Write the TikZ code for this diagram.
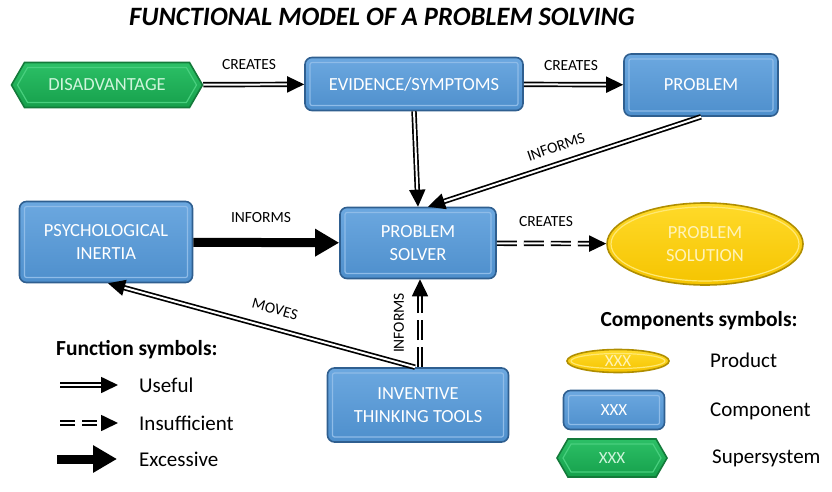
\documentclass[tikz,border=0pt]{standalone}
\usepackage{fontspec}
\setmainfont{Carlito}
\usetikzlibrary{arrows.meta,shapes.geometric,shapes.symbols,calc}
\definecolor{cbluetop}{HTML}{6CA8E0}
\definecolor{cbluebot}{HTML}{4E8FCC}
\definecolor{cedge}{HTML}{2F5F90}
\definecolor{cinner}{HTML}{8FBCE8}
\definecolor{gtop}{HTML}{2CC066}
\definecolor{gbot}{HTML}{16A04C}
\definecolor{gedge}{HTML}{137A3A}
\definecolor{ginner}{HTML}{48CF7E}
\definecolor{gtext}{HTML}{CFF5DC}
\definecolor{ytop}{HTML}{FFDA2A}
\definecolor{ybot}{HTML}{F5C400}
\definecolor{yedge}{HTML}{B08E00}
\definecolor{yinner}{HTML}{FFE873}
\definecolor{ytext}{HTML}{FFF3B8}
\tikzset{
  comp/.style={rectangle, rounded corners=7pt, top color=cbluetop, bottom color=cbluebot,
    draw=cedge, line width=1.6pt, text=white, align=center, inner sep=0pt,
    font=\fontsize{18.5}{23}\selectfont,
    path picture={\draw[cinner, line width=1.2pt, rounded corners=2pt]
      ($(path picture bounding box.north west)+(5pt,-5pt)$) rectangle
      ($(path picture bounding box.south east)+(-5pt,5pt)$);}},
  sup/.style={signal, signal to=west and east, signal pointer angle=120,
    top color=gtop, bottom color=gbot, draw=gedge, line width=1.6pt, text=gtext,
    inner sep=0pt, font=\fontsize{18.5}{23}\selectfont,
    path picture={\draw[ginner, line width=1.2pt]
      let \p1=(path picture bounding box.south west), \p2=(path picture bounding box.north east),
          \n1={0.5*\y2-0.5*\y1-5pt}, \n2={0.577*\n1}, \n3={0.5*\y1+0.5*\y2} in
      ({\x1+6pt},{\n3}) -- ({\x1+6pt+\n2},{\y2-5pt}) -- ({\x2-6pt-\n2},{\y2-5pt}) --
      ({\x2-6pt},{\n3}) -- ({\x2-6pt-\n2},{\y1+5pt}) -- ({\x1+6pt+\n2},{\y1+5pt}) -- cycle;}},
  prod/.style={ellipse, top color=ytop, bottom color=ybot, draw=yedge, line width=1.6pt,
    text=ytext, align=center, inner sep=0pt, font=\fontsize{18.5}{23}\selectfont,
    path picture={\draw[yinner, line width=1.2pt]
      let \p1=(path picture bounding box.south west), \p2=(path picture bounding box.north east) in
      ({0.5*\x1+0.5*\x2},{0.5*\y1+0.5*\y2}) ellipse ({0.5*\x2-0.5*\x1-4pt} and {0.5*\y2-0.5*\y1-4pt});}},
  useful/.style={draw=black, double=white, double distance=2pt, line width=1.7pt,
    -{Triangle[length=17pt,width=16pt]}},
  insuff/.style={useful, dash pattern=on 20pt off 7pt},
  excess/.style={draw=black, line width=9pt, -{Triangle[length=24pt,width=26pt]}},
  lab/.style={font=\fontsize{15.5}{18}\selectfont, inner sep=0pt},
  legh/.style={font=\fontsize{21.5}{24}\selectfont\bfseries, inner sep=0pt},
  legt/.style={font=\fontsize{21}{24}\selectfont, inner sep=0pt, anchor=west},
  ttl/.style={font=\fontsize{26.5}{30}\selectfont\bfseries\itshape, inner sep=0pt}
}
\begin{document}
\begin{tikzpicture}[x=1pt,y=-1pt]
\useasboundingbox[fill=white] (0,0) rectangle (832,492);
\node[ttl] (title) at (382,17) {FUNCTIONAL MODEL OF A PROBLEM SOLVING};
% main nodes
\node[sup, minimum width=191pt, minimum height=45pt] (dis) at (107,85) {DISADVANTAGE};
\node[comp, minimum width=218pt, minimum height=53pt] (evid) at (414,84) {EVIDENCE/SYMPTOMS};
\node[comp, minimum width=154pt, minimum height=62pt] (prob) at (701,85) {PROBLEM};
\node[comp, minimum width=173pt, minimum height=81pt] (psy) at (106,242) {PSYCHOLOGICAL\\INERTIA};
\node[comp, minimum width=156pt, minimum height=71pt] (solver) at (418,243) {PROBLEM\\SOLVER};
\node[prod, minimum width=196pt, minimum height=82pt] (sol) at (705,244) {PROBLEM\\SOLUTION};
\node[comp, minimum width=181pt, minimum height=74pt] (itt) at (418,405) {INVENTIVE\\THINKING TOOLS};
% connectors
\draw[useful] (dis) -- (evid);
\draw[useful] (evid) -- (prob);
\draw[useful] (evid.south) -- (solver.north);
\draw[useful] (prob.south) -- ([xshift=10pt]solver.north);
\draw[excess] (psy) -- (solver);
\draw[insuff] (solver) -- (sol);
\draw[insuff] ([xshift=2pt]itt.north) -- ([xshift=2pt]solver.south);
\draw[useful] ([xshift=-3pt]itt.north) -- ([xshift=2pt]psy.south);
% labels
\node[lab] (l1) at (249,65) {CREATES};
\node[lab] (l2) at (571,66) {CREATES};
\node[lab, rotate=19] (l3) at (556,147) {INFORMS};
\node[lab] (l4) at (261,218) {INFORMS};
\node[lab] (l5) at (546,222) {CREATES};
\node[lab, rotate=-15.5] (l6) at (275,309) {MOVES};
\node[lab, rotate=90] (l7) at (399,323) {INFORMS};
% legend: functions
\node[legh, anchor=west] (fs) at (56,350) {Function symbols:};
\coordinate (u1) at (60,385); \coordinate (u2) at (118,385);
\draw[useful] (u1) -- (u2);
\node[legt] (tu) at (139,385) {Useful};
\coordinate (i1) at (60,423); \coordinate (i2) at (118,423);
\draw[useful, dash pattern=on 15pt off 7pt] (i1) -- (i2);
\node[legt] (ti) at (139,423) {Insufficient};
\coordinate (e1) at (57,459); \coordinate (e2) at (117,459);
\draw[excess] (e1) -- (e2);
\node[legt] (te) at (139,459) {Excessive};
% legend: components
\node[legh] (cs) at (699,321) {Components symbols:};
\node[prod, minimum width=102pt, minimum height=23pt, font=\fontsize{17}{19}\selectfont] (lp) at (618,361) {XXX};
\node[legt] (tp) at (710,360) {Product};
\node[comp, minimum width=101pt, minimum height=39pt, font=\fontsize{17}{19}\selectfont] (lc) at (614,410) {XXX};
\node[legt] (tc) at (710,411) {Component};
\node[sup, minimum width=110pt, minimum height=38pt, font=\fontsize{17}{19}\selectfont] (ls) at (612,458) {XXX};
\node[legt] (ts) at (712,458) {Supersystem};
\end{tikzpicture}
\end{document}
